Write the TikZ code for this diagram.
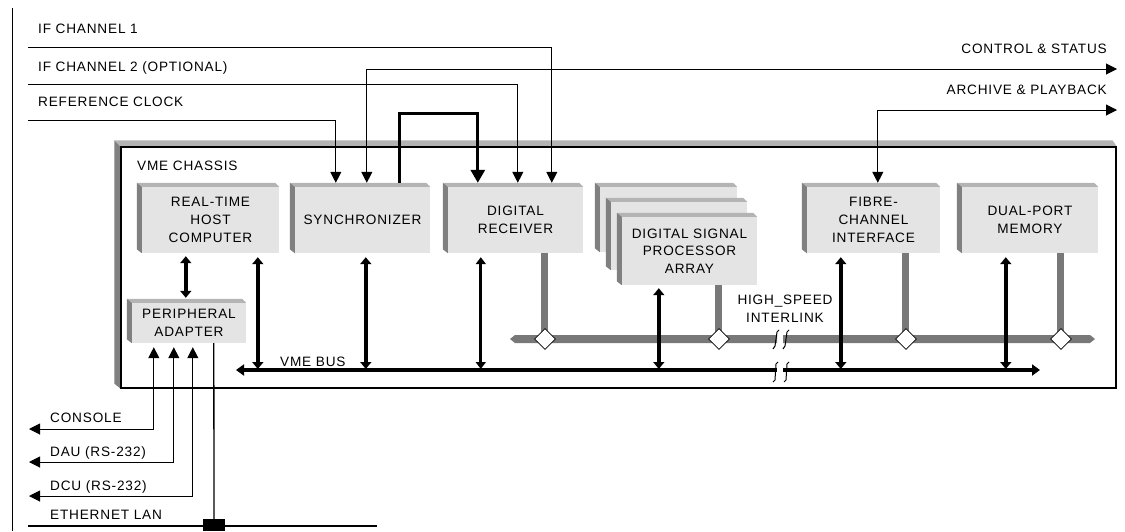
\documentclass[tikz,border=0pt]{standalone}
\usepackage{fontspec}
\setmainfont{Liberation Sans}[LetterSpace=6]
\usetikzlibrary{arrows.meta,shapes.geometric,calc}
\definecolor{facegray}{RGB}{228,228,228}
\definecolor{bevdark}{RGB}{128,128,128}
\definecolor{bevlight}{RGB}{180,180,180}
\definecolor{hsgray}{RGB}{120,120,120}
\begin{document}
\begin{tikzpicture}[x=1pt,y=-1pt,
  lbl/.style={font=\fontsize{13.6}{17.7}\selectfont, inner sep=0},
  face/.style={fill=facegray, inner sep=0, align=center, font=\fontsize{13.6}{17.7}\selectfont},
  sig/.style={line width=1pt, -{Triangle[length=11pt,width=11pt]}},
  sigtwo/.style={line width=1pt, {Triangle[length=11pt,width=11pt]}-{Triangle[length=11pt,width=11pt]}},
  busarr/.style={line width=4.5pt, {Triangle[length=7pt,width=11pt]}-{Triangle[length=7pt,width=11pt]}},
  hsline/.style={draw=hsgray, line width=7pt},
  tap/.style={diamond, draw=black, line width=0.8pt, fill=white, minimum width=21pt, minimum height=21pt, inner sep=0},
  brk/.style={line width=1pt, line join=round}
]
\useasboundingbox (0,0) rectangle (1125,531);
% page border line
\coordinate (bt) at (12,8); \coordinate (bb) at (12,531);
\draw[line width=1pt] (bt) -- (bb);

% chassis
\node[draw, line width=1.2pt, minimum width=995pt, minimum height=241pt, inner sep=0] (chassis) at (618.5,267.5) {};
\fill[bevlight] ($(chassis.north west)+(-6,-6)$) -- ($(chassis.north east)+(-4,-6)$) -- (chassis.north east) -- (chassis.north west) -- cycle;
\fill[bevdark] ($(chassis.north west)+(-6,-6)$) -- (chassis.north west) -- (chassis.south west) -- ($(chassis.south west)+(-6,-5)$) -- cycle;
\draw[line width=1.2pt] (chassis.north west) rectangle (chassis.south east);
\node[lbl, anchor=base west] (vmec) at (137,170) {VME CHASSIS};

% boxes
\node[face, minimum width=137pt, minimum height=66pt] (rt) at (210.5,220) {REAL-TIME\\HOST\\COMPUTER};
\node[face, minimum width=135pt, minimum height=66pt] (sync) at (362.5,220) {SYNCHRONIZER};
\node[face, minimum width=135pt, minimum height=66pt] (dr) at (515.5,220) {DIGITAL\\RECEIVER};
\node[face, minimum width=114pt, minimum height=40pt] (pa) at (189,323) {PERIPHERAL\\ADAPTER};
\node[face, minimum width=137pt, minimum height=65pt] (dspa) at (668.5,219.5) {};
\node[face, minimum width=136pt, minimum height=68pt] (dspb) at (679,236) {};
\node[face, minimum width=135pt, minimum height=68pt] (dsp) at (689.5,251) {DIGITAL SIGNAL\\PROCESSOR\\ARRAY};
\node[face, minimum width=133pt, minimum height=66pt] (fc) at (873.5,220) {FIBRE-\\CHANNEL\\INTERFACE};
\node[face, minimum width=136pt, minimum height=66pt] (dpm) at (1030,220) {DUAL-PORT\\MEMORY};
\foreach \n in {rt,sync,dr,pa,dspa,dspb,dsp,fc,dpm}{
  \fill[bevlight] ($(\n.north west)+(-5,-4)$) -- ($(\n.north east)+(-4,-4)$) -- (\n.north east) -- (\n.north west) -- cycle;
  \fill[bevdark] ($(\n.north west)+(-5,-4)$) -- (\n.north west) -- (\n.south west) -- ($(\n.south west)+(-5,-4)$) -- cycle;
}

% top labels and signals
\node[lbl, anchor=base west] (l1) at (38,33) {IF CHANNEL 1};
\node[lbl, anchor=base west] (l2) at (38,71) {IF CHANNEL 2 (OPTIONAL)};
\node[lbl, anchor=base west] (l3) at (38,106) {REFERENCE CLOCK};
\node[lbl, anchor=base east] (l4) at (1107,53) {CONTROL \& STATUS};
\node[lbl, anchor=base east] (l5) at (1107,94) {ARCHIVE \& PLAYBACK};
\coordinate (if1) at (28,47);
\coordinate (if2) at (28,84);
\coordinate (ref) at (28,120);
\coordinate (ctl) at (1117,69);
\coordinate (arc) at (1117,110);
\draw[sig] (if1) -| ($(dr.north west)+(104,-4)$);
\draw[sig] (if2) -| ($(dr.north west)+(70,-4)$);
\draw[sig] (ref) -| ($(sync.north west)+(41,-4)$);
\draw[sigtwo] ($(sync.north west)+(72,-4)$) |- (ctl);
\draw[sigtwo] ($(fc.north west)+(71,-4)$) |- (arc);
\draw[line width=3pt, -{Triangle[length=13pt,width=14pt]}] ($(sync.north west)+(105,-4)$) -- ++(0,-69) -| ($(dr.north west)+(30,-4)$);

% high speed interlink
\draw[hsline] ($(dr.south west)+(97,0)$) -- ++(0,86);
\draw[hsline] ($(dsp.south west)+(97,0)$) -- ++(0,54);
\draw[hsline] ($(fc.south west)+(99,0)$) -- ++(0,86);
\draw[hsline] ($(dpm.south west)+(99,0)$) -- ++(0,86);
\coordinate (hsl) at (510,339);
\coordinate (hsr) at (1095,339);
\fill[hsgray] (hsl) -- ++(5,-4) -- (777,335) -- (777,343) -- (515,343) -- cycle;
\fill[hsgray] (hsr) -- ++(-5,-4) -- (783,335) -- (783,343) -- (1090,343) -- cycle;
\node[tap] (t1) at (545,339) {};
\node[tap] (t2) at (719,339) {};
\node[tap] (t3) at (906,339) {};
\node[tap] (t4) at (1061,339) {};
\node[lbl, align=center] (hsi) at (785,309) {HIGH\_SPEED\\INTERLINK};
\draw[brk] (779,330) -- (777,332) -- (775,346) -- (773,349);
\draw[brk] (789,330) -- (787,332) -- (785,346) -- (783,349);

% VME bus
\coordinate (vmel) at (236,370);
\coordinate (vmer) at (1040,370);
\coordinate (bustop) at (236,369);
\draw[line width=3.5pt, {Triangle[length=8pt,width=11pt]}-] (vmel) -- (777,370);
\draw[line width=3.5pt, -{Triangle[length=8pt,width=11pt]}] (783,370) -- (vmer);
\draw[brk] (778,362) -- (776,364) -- (775,380) -- (773,382);
\draw[brk] (789,362) -- (787,364) -- (786,380) -- (784,382);
\node[lbl, anchor=base west] (vmeb) at (280,366) {VME BUS};

% bus connectors
\path ($(rt.south west)+(116,4)$) coordinate (c1);
\path ($(sync.south west)+(71,4)$) coordinate (c2);
\path ($(dr.south west)+(33,4)$) coordinate (c3);
\path ($(dsp.south west)+(37,3)$) coordinate (c4);
\path ($(fc.south west)+(34,4)$) coordinate (c5);
\path ($(dpm.south west)+(44,4)$) coordinate (c6);
\draw[busarr] (c1) -- (c1 |- bustop);
\draw[busarr] (c2) -- (c2 |- bustop);
\draw[line width=3pt, {Triangle[length=7pt,width=10pt]}-{Triangle[length=7pt,width=10pt]}] (c3) -- (c3 |- bustop);
\draw[busarr] (c4) -- (c4 |- bustop);
\draw[busarr] (c5) -- (c5 |- bustop);
\draw[busarr] (c6) -- (c6 |- bustop);
\draw[busarr] ($(rt.south west)+(44,3)$) -- ($(pa.north west)+(54,-5)$);

% peripheral links
\node[lbl, anchor=base west] (lc) at (50,422) {CONSOLE};
\node[lbl, anchor=base west] (ld) at (50,456) {DAU (RS-232)};
\node[lbl, anchor=base west] (lu) at (50,490) {DCU (RS-232)};
\node[lbl, anchor=base west] (le) at (50,519) {ETHERNET LAN};
\coordinate (con) at (29,429);
\coordinate (dau) at (29,462);
\coordinate (dcu) at (29,496);
\draw[sigtwo] ($(pa.south west)+(22,4)$) |- (con);
\draw[sigtwo] ($(pa.south west)+(42,4)$) |- (dau);
\draw[sigtwo] ($(pa.south west)+(61,4)$) |- (dcu);
\coordinate (ethl) at (28,526);
\coordinate (ethr) at (377,526);
\draw[line width=2.5pt] (ethl) -- (ethr);
\node[fill=black, minimum width=22pt, minimum height=12pt, inner sep=0] (ethtap) at (214,525) {};
\draw[line width=1.3pt] ($(pa.south west)+(82,0)$) -- (ethtap.north);
\end{tikzpicture}
\end{document}
